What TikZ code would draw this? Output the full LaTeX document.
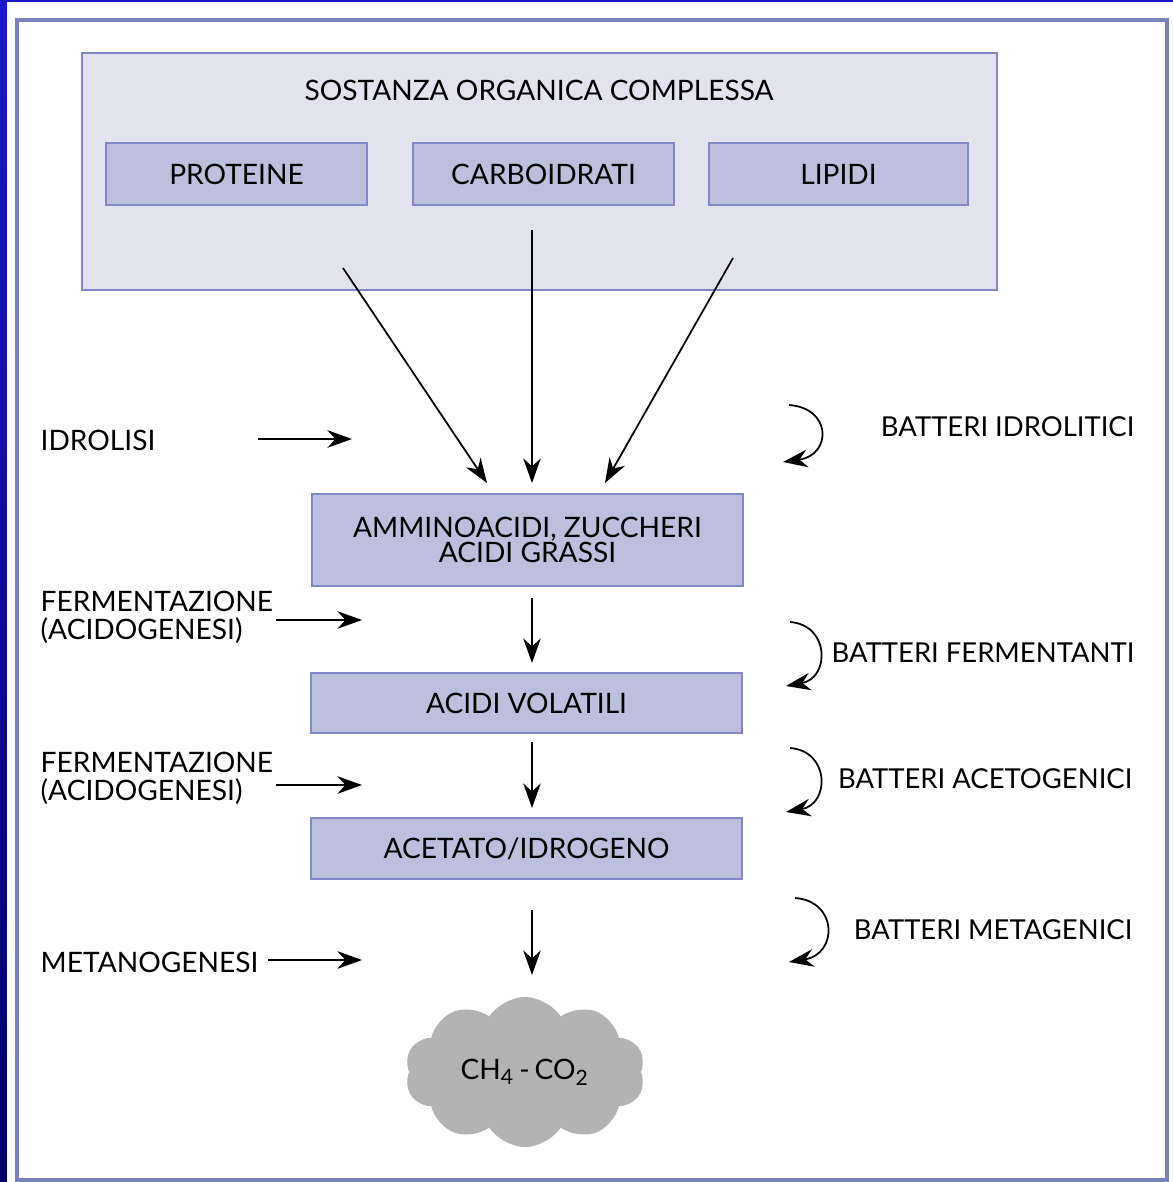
\documentclass[tikz,border=0pt]{standalone}
\usepackage{fontspec}
\setmainfont{Lato}
\usepackage{xcolor}
\usetikzlibrary{arrows.meta,shapes.symbols,positioning}

\definecolor{frameblue}{HTML}{7A82BD}
\definecolor{boxline}{HTML}{8088C8}
\definecolor{boxlight}{HTML}{E2E3EF}
\definecolor{boxdark}{HTML}{BCC0DD}
\definecolor{cloudgray}{HTML}{B3B3B3}

\begin{document}
\begin{tikzpicture}[x=0.01cm,y=-0.01cm,
    font=\fontsize{8}{8}\selectfont,
    outerbox/.style={draw=boxline,line width=0.6pt,fill=boxlight,minimum width=9.15cm,minimum height=2.37cm},
    subbox/.style={draw=boxline,line width=0.6pt,fill=boxdark,minimum width=2.61cm,minimum height=0.62cm,inner sep=0pt},
    stagebox/.style={draw=boxline,line width=0.6pt,fill=boxdark,minimum width=4.3cm,inner sep=0pt},
    lbl/.style={anchor=west,align=left,inner sep=0pt},
    bact/.style={anchor=east,inner sep=0pt,font=\fontsize{7.8}{8}\selectfont},
    arr/.style={-{Stealth[length=7pt,width=5pt]},line width=0.5pt},
    curl/.style={-{Stealth[length=7pt,width=5pt]},line width=0.5pt}]
    % Background and frame
    \useasboundingbox (0,0) rectangle (1173,1182);
    \shade[top color=blue!75!black!90,bottom color=blue!40!black] (0,0) rectangle (1173,1182);
    \fill[white] (7,2) rectangle (1173,1182);
    \draw[frameblue,line width=1.1pt] (17,20) rectangle (1167,1180);
    % Organic matter
    \node[outerbox] (som) at (539.5,171.5) {};
    \node (title) at (539,90) {SOSTANZA ORGANICA COMPLESSA};
    \node[subbox] (prot) at (236.5,174) {PROTEINE};
    \node[subbox] (carb) at (543.5,174) {CARBOIDRATI};
    \node[subbox,minimum width=2.59cm] (lip) at (838.5,174) {LIPIDI};
    % Stages
    \node[stagebox,minimum height=0.92cm,align=center] (amm) at (527.5,540)
        {AMMINOACIDI, ZUCCHERI\\[-1pt]ACIDI GRASSI};
    \node[stagebox,minimum height=0.6cm,minimum width=4.31cm] (vol) at (526.5,703) {ACIDI VOLATILI};
    \node[stagebox,minimum height=0.61cm,minimum width=4.31cm] (acet) at (526.5,848.5) {ACETATO/IDROGENO};
    \node[cloud,cloud puffs=10,cloud puff arc=115,aspect=1.6,fill=cloudgray,
          minimum width=2.4cm,minimum height=1.5cm,inner sep=0pt] (gas) at (525,1072)
        {CH\textsubscript{4}\,-\,CO\textsubscript{2}};
    % Hydrolysis arrows
    \coordinate (p1) at (343,268);
    \coordinate (p2) at (532,230);
    \coordinate (p3) at (733,258);
    \coordinate (q1) at (487,483);
    \coordinate (q2) at (532,483);
    \coordinate (q3) at (605,483);
    \draw[arr] (p1) -- (q1);
    \draw[arr] (p2) -- (q2);
    \draw[arr] (p3) -- (q3);
    % Stage arrows
    \draw[arr] (532,598) -- (532,663);
    \draw[arr] (532,742) -- (532,808);
    \draw[arr] (532,910) -- (532,975);
    % Left labels
    \node[lbl] (idr) at (40,440) {IDROLISI};
    \node[lbl] (ferm1) at (40,617) {FERMENTAZIONE\\[0pt](ACIDOGENESI)};
    \node[lbl] (ferm2) at (40,778) {FERMENTAZIONE\\[0pt](ACIDOGENESI)};
    \node[lbl] (met) at (40,962) {METANOGENESI};
    \coordinate (i1) at (258,439);
    \coordinate (i2) at (352,439);
    \coordinate (f1a) at (276,620);
    \coordinate (f1) at (362,620);
    \coordinate (f2a) at (276,785);
    \coordinate (f2) at (362,785);
    \coordinate (m1) at (268,960);
    \coordinate (m2) at (362,960);
    \draw[arr] (i1) -- (i2);
    \draw[arr] (f1a) -- (f1);
    \draw[arr] (f2a) -- (f2);
    \draw[arr] (m1) -- (m2);
    % Bacteria
    \node[bact] (bidr) at (1135,427) {BATTERI IDROLITICI};
    \node[bact] (bfer) at (1135,653) {BATTERI FERMENTANTI};
    \node[bact] (bace) at (1133,779) {BATTERI ACETOGENICI};
    \node[bact] (bmet) at (1133,930) {BATTERI METAGENICI};
    \draw[curl] (789,405) .. controls (832,408) and (832,455) .. (783,462);
    \draw[curl] (790,622) .. controls (830,625) and (830,678) .. (786,686);
    \draw[curl] (790,748) .. controls (830,751) and (830,804) .. (786,812);
    \draw[curl] (795,898) .. controls (838,901) and (838,954) .. (789,962);
\end{tikzpicture}
\end{document}
